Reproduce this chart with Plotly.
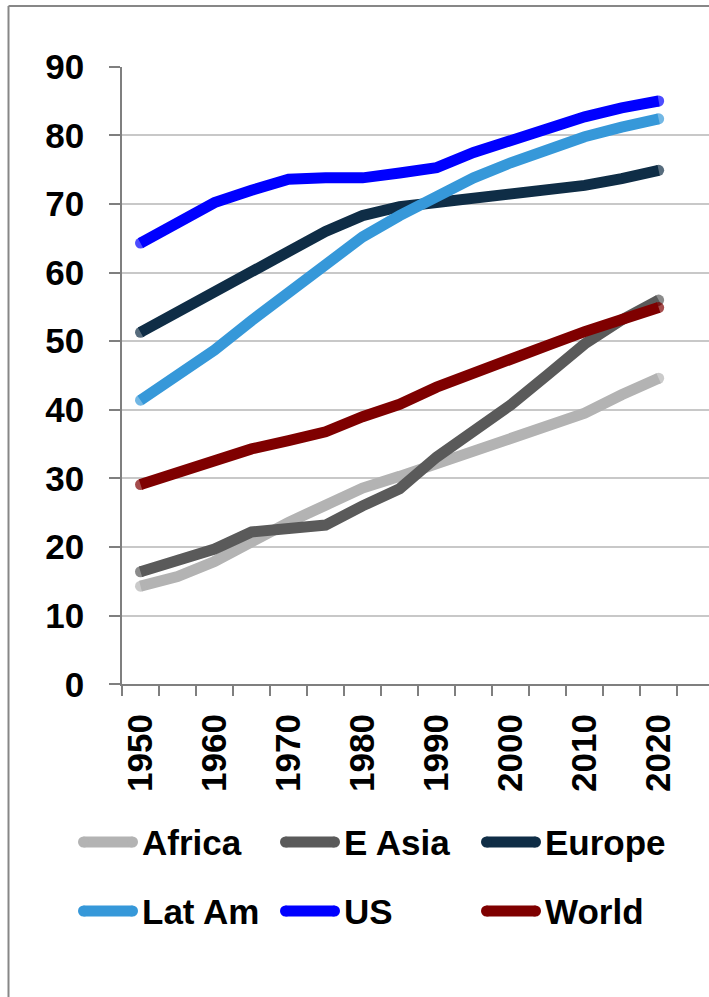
import plotly.graph_objects as go

# Five-year observations, 1950-2020
years = [1950, 1955, 1960, 1965, 1970, 1975, 1980, 1985, 1990, 1995, 2000, 2005, 2010, 2015, 2020]
tick_years = [1950, 1960, 1970, 1980, 1990, 2000, 2010, 2020]
y_ticks = [0, 10, 20, 30, 40, 50, 60, 70, 80, 90]

africa = [14.3, 15.7, 17.9, 20.8, 23.6, 26.1, 28.6, 30.3, 32.2, 34.2, 35.9, 37.6, 39.5, 42.2, 44.6]
e_asia = [16.4, 17.9, 19.7, 22.2, 22.8, 23.2, 26.0, 28.5, 33.1, 36.7, 40.7, 45.1, 49.6, 53.1, 56.0]
europe = [51.3, 54.2, 57.2, 60.2, 63.0, 66.0, 68.3, 69.6, 70.2, 70.8, 71.2, 71.8, 72.7, 73.7, 74.9]
lat_am = [41.4, 45.0, 48.7, 53.0, 57.2, 61.4, 65.2, 68.3, 71.0, 73.8, 76.0, 78.0, 79.8, 81.2, 82.4]
us = [64.3, 67.4, 70.2, 72.0, 73.6, 73.8, 73.8, 74.5, 75.3, 77.5, 79.3, 81.0, 82.7, 84.0, 85.0]
world = [29.1, 30.9, 32.6, 34.3, 35.5, 36.8, 39.0, 40.8, 43.3, 45.2, 47.3, 49.4, 51.4, 53.0, 54.9]

series_names = ["Africa", "E Asia", "Europe", "Lat Am", "US", "World"]
series_values = [africa, e_asia, europe, lat_am, us, world]
colors = ["#b3b3b3", "#5a5a5a", "#0f2d46", "#3698d9", "#0000ff", "#7f0000"]

W, H = 709, 997
FONT = "Liberation Sans, Arial, sans-serif"
LW = 11

fig = go.Figure()

for name, vals, col in zip(series_names, series_values, colors):
    # round end caps: a dot only at the first and last point
    cap_sizes = [LW] + [0] * (len(vals) - 2) + [LW]
    fig.add_trace(go.Scatter(
        x=years, y=vals, name=name, mode="lines+markers",
        line=dict(color=col, width=LW),
        marker=dict(color=col, size=cap_sizes, line=dict(width=0)),
        hoverinfo="skip", showlegend=False,
    ))

# Legend drawn on a pixel-coordinate overlay axis: 3 columns x 2 rows
leg_x = [78, 280, 481]
leg_y = [842, 911]
seg = 60
for i, (name, col) in enumerate(zip(series_names, colors)):
    x0 = leg_x[i % 3]
    y0 = leg_y[i // 3]
    fig.add_trace(go.Scatter(
        x=[x0 + LW / 2, x0 + seg - LW / 2], y=[y0, y0], mode="lines+markers",
        line=dict(color=col, width=LW),
        marker=dict(color=col, size=LW, line=dict(width=0)),
        xaxis="x2", yaxis="y2", hoverinfo="skip", showlegend=False,
        cliponaxis=False,
    ))
    fig.add_annotation(
        x=x0 + seg + 2, y=y0, xref="x2", yref="y2", text=f"<b>{name}</b>",
        showarrow=False, xanchor="left", yanchor="middle",
        font=dict(family=FONT, size=35, color="#000000"),
    )

# Outer chart frame (left and top edges)
frame_col = "#878787"
fig.add_shape(type="line", xref="paper", yref="paper",
              x0=8.5 / W, x1=8.5 / W, y0=1 - 6 / H, y1=0,
              line=dict(color=frame_col, width=2))
fig.add_shape(type="line", xref="paper", yref="paper",
              x0=8.5 / W, x1=1, y0=1 - 6 / H, y1=1 - 6 / H,
              line=dict(color=frame_col, width=2))

axis_col = "#7f7f7f"
plot_left, plot_top, plot_bottom = 122, 66.7, 684.3

fig.update_layout(
    width=W, height=H,
    margin=dict(l=0, r=0, t=0, b=0, pad=0, autoexpand=False),
    paper_bgcolor="white", plot_bgcolor="rgba(0,0,0,0)",
    showlegend=False,
    font=dict(family=FONT, color="#000000"),
    xaxis=dict(
        domain=[plot_left / W, 1],
        range=[1947.5, 2026.8],
        tickmode="array", tickvals=tick_years,
        ticktext=[f"<b>{y}</b>" for y in tick_years],
        tickangle=-90, ticks="",
        tickfont=dict(family=FONT, size=35, color="#000000"),
        ticklabelstandoff=14,
        showline=True, linecolor=axis_col, linewidth=1.5,
        showgrid=False, zeroline=False, automargin=False,
        minor=dict(tick0=1947.5, dtick=5, ticks="outside", ticklen=10,
                   tickwidth=1.5, tickcolor=axis_col, showgrid=False),
        fixedrange=True,
    ),
    yaxis=dict(
        domain=[1 - plot_bottom / H, 1 - plot_top / H],
        range=[0, 90],
        tickmode="array", tickvals=y_ticks,
        ticktext=[f"<b>{v}</b>" for v in y_ticks],
        ticks="outside", ticklen=11, tickwidth=1.5, tickcolor=axis_col,
        tickfont=dict(family=FONT, size=35, color="#000000"),
        ticklabelstandoff=18,
        showline=True, linecolor=axis_col, linewidth=1.5,
        showgrid=True, gridcolor="#c8c8c8", gridwidth=1.5,
        zeroline=False, fixedrange=True, automargin=False,
    ),
    xaxis2=dict(domain=[0, 1], range=[0, W], visible=False, fixedrange=True, anchor="y2"),
    yaxis2=dict(domain=[0, 1], range=[H, 0], visible=False, fixedrange=True, anchor="x2"),
)

fig.write_html("out.html", config={"displayModeBar": False})
